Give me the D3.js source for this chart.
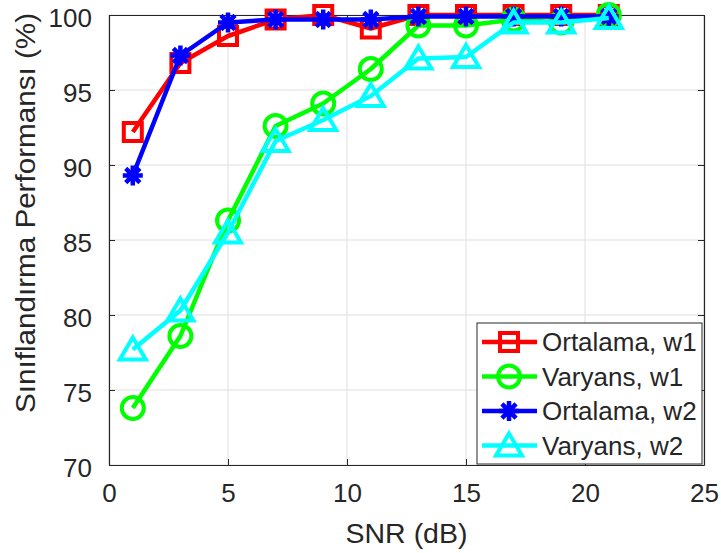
<!DOCTYPE html>
<html lang="tr">
<head>
<meta charset="UTF-8">
<title>SNR</title>
<script src="https://cdn.jsdelivr.net/npm/d3@7"></script>
<style>
  body { margin: 0; background: #fff; }
  svg text { font-family: "Liberation Sans", Arial, sans-serif; fill: #262626; }
</style>
</head>
<body>
<svg id="chart" width="721" height="553"></svg>
<script>
// data
const snr = [1, 3, 5, 7, 9, 11, 13, 15, 17, 19, 21]
const ortalamaW1 = [92.2, 96.8, 98.6, 99.7, 100.0, 99.1, 100.0, 100.0, 100.0, 100.0, 100.0]
const varyansW1 = [73.8, 78.6, 86.3, 92.6, 94.1, 96.4, 99.3, 99.3, 99.7, 99.5, 100.0]
const ortalamaW2 = [89.3, 97.3, 99.5, 99.7, 99.7, 99.7, 99.9, 99.9, 99.9, 99.9, 99.9]
const varyansW2 = [77.7, 80.3, 85.5, 91.6, 93.0, 94.6, 97.1, 97.2, 99.5, 99.5, 99.8]
const xTicks = [0, 5, 10, 15, 20, 25]
const yTicks = [70, 75, 80, 85, 90, 95, 100]

const series = [
  { name: 'Ortalama, w1', values: ortalamaW1, color: '#ff0000', marker: 'square' },
  { name: 'Varyans, w1', values: varyansW1, color: '#00ff00', marker: 'circle' },
  { name: 'Ortalama, w2', values: ortalamaW2, color: '#0000ff', marker: 'star' },
  { name: 'Varyans, w2', values: varyansW2, color: '#00ffff', marker: 'triangle' }
]

const margin = { left: 109, top: 15, right: 17, bottom: 88 }
const width = 721 - margin.left - margin.right
const height = 553 - margin.top - margin.bottom

const svg = d3.select('#chart')
const g = svg.append('g').attr('transform', `translate(${margin.left},${margin.top})`)

const x = d3.scaleLinear().domain([0, 25]).range([0, width])
const y = d3.scaleLinear().domain([70, 100]).range([height, 0])

// grid
g.append('g').selectAll('line').data(xTicks).join('line')
  .attr('x1', d => x(d)).attr('x2', d => x(d)).attr('y1', 0).attr('y2', height)
  .attr('stroke', '#dfdfdf').attr('stroke-width', 1)
g.append('g').selectAll('line').data(yTicks).join('line')
  .attr('y1', d => y(d)).attr('y2', d => y(d)).attr('x1', 0).attr('x2', width)
  .attr('stroke', '#dfdfdf').attr('stroke-width', 1)

// axes (matlab style: ticks inside, box on)
g.append('g').attr('transform', `translate(0,${height})`)
  .call(d3.axisBottom(x).tickValues(xTicks).tickSizeInner(-6).tickSizeOuter(0).tickPadding(19))
g.append('g')
  .call(d3.axisLeft(y).tickValues(yTicks).tickSizeInner(-6).tickSizeOuter(0).tickPadding(17))
  .selectAll('.tick text').attr('dy', '0.45em')
g.append('g').attr('transform', `translate(${width},0)`)
  .call(d3.axisRight(y).tickValues(yTicks).tickSizeInner(-6).tickSizeOuter(0).tickFormat(''))
g.append('g')
  .call(d3.axisTop(x).tickValues(xTicks).tickSizeInner(-6).tickSizeOuter(0).tickFormat(''))

g.selectAll('.domain').attr('stroke', '#262626').attr('stroke-width', 1.2)
g.selectAll('.tick line').attr('stroke', '#262626')
g.selectAll('.tick text').attr('font-size', 26).attr('fill', '#262626')

// axis labels
svg.append('text')
  .attr('x', margin.left + width / 2).attr('y', 543)
  .attr('text-anchor', 'middle').attr('font-size', 27)
  .attr('textLength', 122).attr('lengthAdjust', 'spacingAndGlyphs')
  .text('SNR (dB)')
svg.append('text')
  .attr('transform', 'translate(35,213) rotate(-90)')
  .attr('text-anchor', 'middle').attr('font-size', 27)
  .attr('textLength', 400).attr('lengthAdjust', 'spacingAndGlyphs')
  .text('Sınıflandırma Performansı (%)')

// marker drawing
function drawMarker(sel, type, color) {
  if (type === 'square') {
    sel.append('rect').attr('x', -9).attr('y', -9).attr('width', 18).attr('height', 18)
      .attr('fill', 'none').attr('stroke', color).attr('stroke-width', 4)
  } else if (type === 'circle') {
    sel.append('circle').attr('r', 11)
      .attr('fill', 'none').attr('stroke', color).attr('stroke-width', 4)
  } else if (type === 'triangle') {
    sel.append('path').attr('d', 'M0,-12L13,10L-13,10Z')
      .attr('fill', 'none').attr('stroke', color).attr('stroke-width', 4).attr('stroke-linejoin', 'miter')
  } else if (type === 'star') {
    const r = 10
    const d = [0, 45, 90, 135].map(a => {
      const t = a * Math.PI / 180
      return `M${-r * Math.cos(t)},${-r * Math.sin(t)}L${r * Math.cos(t)},${r * Math.sin(t)}`
    }).join('')
    sel.append('path').attr('d', d).attr('stroke', color).attr('stroke-width', 4.5)
    sel.append('circle').attr('r', 5).attr('fill', color)
  }
}

const line = d3.line().x(d => x(d[0])).y(d => y(d[1]))

series.forEach(s => {
  const pts = snr.map((v, i) => [v, s.values[i]])
  const sg = g.append('g')
  sg.append('path').datum(pts).attr('d', line)
    .attr('fill', 'none').attr('stroke', s.color).attr('stroke-width', 4.5)
    .attr('stroke-linejoin', 'round')
  sg.selectAll('g').data(pts).join('g')
    .attr('transform', d => `translate(${x(d[0])},${y(d[1])})`)
    .each(function () { drawMarker(d3.select(this), s.marker, s.color) })
})

// legend
const lg = svg.append('g').attr('transform', 'translate(477,323)')
lg.append('rect').attr('width', 225).attr('height', 141)
  .attr('fill', '#fff').attr('stroke', '#262626').attr('stroke-width', 1)
series.forEach((s, i) => {
  const row = lg.append('g').attr('transform', `translate(0,${19 + i * 34.5})`)
  row.append('line').attr('x1', 5).attr('x2', 60)
    .attr('stroke', s.color).attr('stroke-width', 4.5)
  const m = row.append('g').attr('transform', 'translate(32,0)')
  drawMarker(m, s.marker, s.color)
  row.append('text').attr('x', 65).attr('y', 9).attr('font-size', 26).text(s.name)
})
</script>
</body>
</html>
